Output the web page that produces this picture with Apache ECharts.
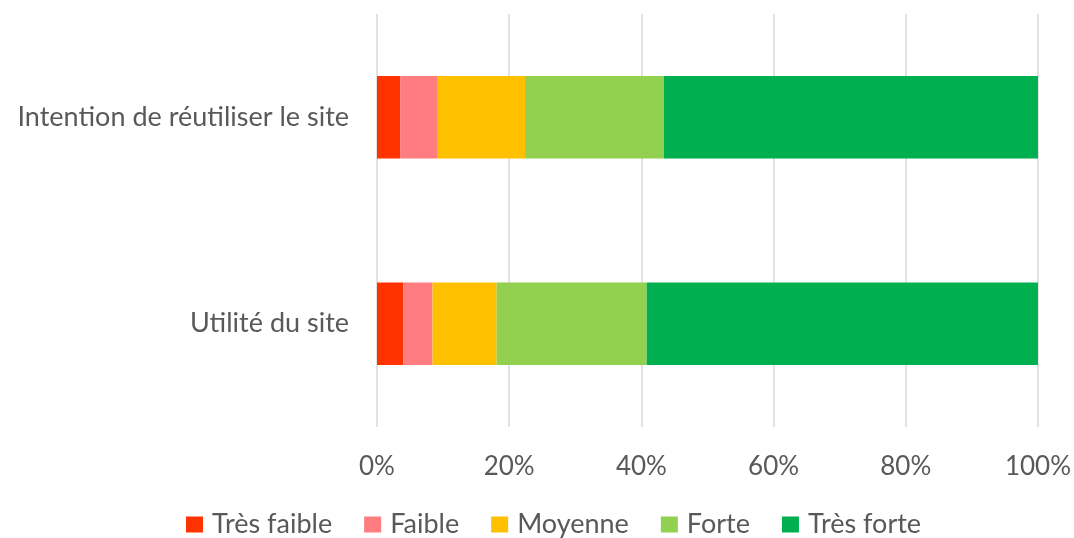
<!DOCTYPE html>
<html>
<head>
<meta charset="utf-8">
<script src="https://cdn.jsdelivr.net/npm/echarts@6/dist/echarts.min.js"></script>
<style>html,body{margin:0;padding:0;background:#fff}#c{width:1074px;height:538px}</style>
</head>
<body>
<div id="c"></div>
<script>
const categories = ["Intention de réutiliser le site", "Utilité du site"];
const seriesNames = ["Très faible", "Faible", "Moyenne", "Forte", "Très forte"];
const tresFaible = [3.5, 4.0];
const faible = [5.7, 4.4];
const moyenne = [13.2, 9.7];
const forte = [21.0, 22.7];
const tresForte = [56.6, 59.2];
const xTicks = [0, 20, 40, 60, 80, 100];

const colors = ["#FF3300", "#FF7C80", "#FFC000", "#92D050", "#00B050"];
const values = [tresFaible, faible, moyenne, forte, tresForte];
const font = "Lato, 'Open Sans', sans-serif";

const chart = echarts.init(document.getElementById('c'), null, {renderer: 'canvas'});
chart.setOption({
  animation: false,
  color: colors,
  textStyle: {fontFamily: font},
  grid: {left: 377, right: 33, top: 14, bottom: 111, containLabel: false},
  legend: {
    left: 181,
    top: 506,
    itemWidth: 17,
    itemHeight: 16,
    itemGap: 32,
    icon: 'rect',
    textStyle: {fontSize: 27, color: '#595959', fontFamily: font, padding: [0, 0, 0, 4]},
    data: seriesNames
  },
  xAxis: {
    type: 'value',
    min: xTicks[0],
    max: xTicks[xTicks.length - 1],
    interval: 20,
    axisLine: {show: false},
    axisTick: {show: false},
    axisLabel: {formatter: '{value}%', fontSize: 26, color: '#595959', margin: 27, fontFamily: font},
    splitLine: {show: true, lineStyle: {color: '#D9D9D9', width: 1.5}}
  },
  yAxis: {
    type: 'category',
    inverse: true,
    data: categories,
    axisLine: {show: false},
    axisTick: {show: false},
    axisLabel: {fontSize: 27, color: '#595959', margin: 28, fontFamily: font}
  },
  series: seriesNames.map((n, i) => ({
    name: n,
    type: 'bar',
    stack: 'total',
    barCategoryGap: '60%',
    data: values[i],
    itemStyle: {color: colors[i]}
  }))
});
</script>
</body>
</html>
